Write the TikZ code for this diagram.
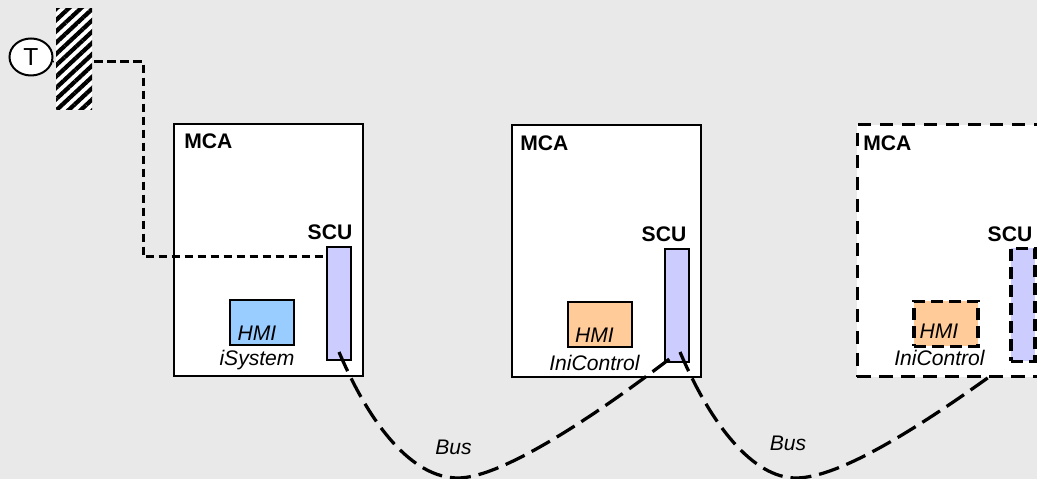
\documentclass[tikz,border=0pt]{standalone}
\usepackage{fontspec}
\setmainfont{Liberation Sans}
\usetikzlibrary{patterns.meta, shapes.geometric}
\definecolor{bgrey}{HTML}{E9E9E9}
\definecolor{hmiblue}{HTML}{99CCFF}
\definecolor{hmiorange}{HTML}{FFCC99}
\definecolor{scublue}{HTML}{CCCCFF}
\tikzstyle{mca} = [rectangle, minimum width=3.78cm, minimum height=5.04cm, inner sep=0pt, draw=black, line width=0.4mm, fill=white]
\tikzstyle{scu} = [rectangle, minimum width=0.48cm, minimum height=2.26cm, inner sep=0pt, draw=black, line width=0.4mm, fill=scublue]
\tikzstyle{hmi} = [rectangle, minimum width=1.28cm, minimum height=0.9cm, inner sep=0pt, draw=black, line width=0.4mm]
\tikzstyle{bold} = [font=\fontsize{12}{14}\selectfont\bfseries, inner sep=0pt]
\tikzstyle{ital} = [font=\fontsize{12}{14}\selectfont\itshape, inner sep=0pt]
\tikzstyle{dash mca} = [dash pattern=on 0.27cm off 0.17cm]
\tikzstyle{dash small} = [dash pattern=on 0.24cm off 0.12cm, line width=0.7mm]
\tikzstyle{bus} = [line width=0.65mm, dash pattern=on 0.42cm off 0.16cm]
\tikzstyle{sensorline} = [line width=0.6mm, dash pattern=on 0.17cm off 0.09cm]

\begin{document}
\begin{tikzpicture}[x=0.2mm, y=-0.2mm]

\useasboundingbox (0,0) rectangle (1037,479);
\clip (0,0) rectangle (1037,479);
\fill [bgrey] (0,0) rectangle (1037,479);

% sensor
\node (wall) [rectangle, minimum width=0.72cm, minimum height=2.02cm, inner sep=0pt, preaction={fill=white}, pattern={Lines[angle=43,distance=4.7pt,line width=2.4pt]}] at (74,59.5) {};
\node (sensor) [ellipse, minimum width=0.86cm, minimum height=0.74cm, inner sep=0pt, draw=black, line width=0.4mm, fill=white, font=\fontsize{14}{16}\selectfont] at (31,57) {T};

% first MCA
\node (mca1) [mca] at (268.5,250) {};
\node (mca1lab) [bold, anchor=west] at (184,141) {MCA};
\node (scu1) [scu] at (339,304) {};
\node (scu1lab) [bold] at (330,232) {SCU};
\node (hmi1) [hmi, fill=hmiblue] at (262,322.5) {};
\node (hmi1lab) [ital] at (257,333) {HMI};
\node (sys1lab) [ital] at (257,360) {iSystem};

% second MCA
\node (mca2) [mca] at (606.5,251) {};
\node (mca2lab) [bold, anchor=west] at (520,143) {MCA};
\node (scu2) [scu] at (677,306) {};
\node (scu2lab) [bold] at (664,234) {SCU};
\node (hmi2) [hmi, fill=hmiorange] at (600,324.5) {};
\node (hmi2lab) [ital] at (594.5,335) {HMI};
\node (sys2lab) [ital] at (594.5,363) {IniControl};

% third MCA, planned
\node (mca3) [mca, dash mca, line width=0.6mm] at (951.5,251) {};
\node (mca3lab) [bold, anchor=west] at (863,143) {MCA};
\node (scu3) [scu, dash small] at (1023,305) {};
\node (scu3lab) [bold] at (1010,234) {SCU};
\node (hmi3) [hmi, dash small, fill=hmiorange] at (946,324) {};
\node (hmi3lab) [ital] at (939,331) {HMI};
\node (sys3lab) [ital] at (939.5,358) {IniControl};

\node (bus1lab) [ital] at (453.5,447) {Bus};
\node (bus2lab) [ital] at (788,443) {Bus};

\coordinate (bend1) at (143,61.5);
\coordinate (bend2) at (143,257);
\coordinate (bus1start) at (339,352);
\coordinate (bus1end) at (672,357);
\coordinate (bus2start) at (680,352);
\coordinate (bus2end) at (989,377);

\draw [line width=0.3mm] (sensor.-12) -- (wall.west |- bend1);
\draw [sensorline] (wall.east |- bend1) -- (bend1) -- (bend2) -- (scu1.west |- bend2);
\draw [bus] (bus1start) .. controls (370,425) and (412,478) .. (458,478) .. controls (500,478) and (590,420) .. (bus1end);
\draw [bus] (bus2start) .. controls (711,425) and (753,478) .. (796,478) .. controls (838,478) and (915,430) .. (bus2end);

\end{tikzpicture}
\end{document}
